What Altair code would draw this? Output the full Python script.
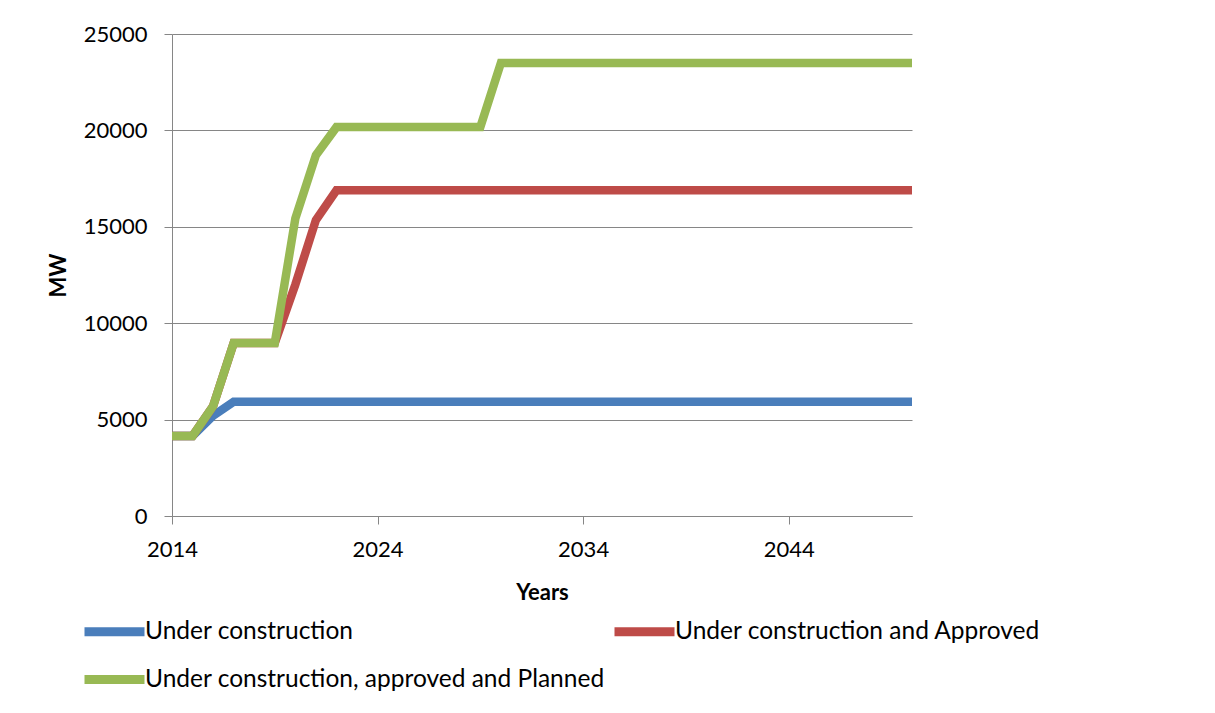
import altair as alt
import pandas as pd

# ---- data ----
years = [2014, 2015, 2016, 2017, 2019, 2020, 2021, 2022, 2029, 2030, 2050]
under_construction = [4150, 4150, 5200, 5930, 5930, 5930, 5930, 5930, 5930, 5930, 5930]
uc_and_approved = [4150, 4150, 5700, 8970, 8970, 12000, 15350, 16890, 16890, 16890, 16890]
uc_approved_planned = [4150, 4150, 5700, 8970, 8970, 15430, 18710, 20170, 20170, 23500, 23500]

series_names = [
    "Under construction",
    "Under construction and Approved",
    "Under construction, approved and Planned",
]
series_values = [under_construction, uc_and_approved, uc_approved_planned]
series_colors = ["#4A7EBB", "#BE4B48", "#98B954"]

# legend lays entries out column by column: blue, green (col 1), red (col 2)
legend_order = [0, 2, 1]

x_ticks = [2014, 2024, 2034, 2044]
y_ticks = [0, 5000, 10000, 15000, 20000, 25000]

rows = []
for name, vals in zip(series_names, series_values):
    for yr, v in zip(years, vals):
        rows.append({"year": yr, "MW": v, "series": name})
df = pd.DataFrame(rows)

FONT = "Lato"
GRID = "#868686"

color = alt.Color(
    "series:N",
    scale=alt.Scale(
        domain=[series_names[i] for i in legend_order],
        range=[series_colors[i] for i in legend_order],
    ),
    legend=alt.Legend(
        orient="none",
        legendX=-72,
        legendY=583,
        columns=2,
        columnPadding=-9,
        rowPadding=11,
        padding=0,
        symbolType="M-3,0H3",
        symbolSize=400,
        symbolStrokeWidth=9,
        labelFontSize=24.5,
        labelFont=FONT,
        labelColor="#000000",
        labelOffset=16,
        labelLimit=0,
        title=None,
    ),
)

x = alt.X(
    "year:Q",
    scale=alt.Scale(domain=[2014, 2050], nice=False, zero=False),
    axis=alt.Axis(
        values=x_ticks,
        format="d",
        title="Years",
        grid=False,
        tickSize=8,
        labelPadding=15,
        labelFlush=False,
        titlePadding=22,
    ),
)
y = alt.Y(
    "MW:Q",
    scale=alt.Scale(domain=[0, 25000], nice=False),
    axis=alt.Axis(
        values=y_ticks,
        format="d",
        title="MW",
        grid=True,
        tickSize=8,
        labelPadding=17,
        titlePadding=13,
    ),
)

layers = []
for name in series_names:
    layers.append(
        alt.Chart(df)
        .transform_filter(alt.datum.series == name)
        .mark_line(strokeWidth=8.5, strokeJoin="miter")
        .encode(x=x, y=y, color=color)
    )

chart = (
    alt.layer(*layers)
    .properties(
        width=740,
        height=482,
        background="white",
        autosize=alt.AutoSizeParams(type="none"),
        padding={"left": 164, "top": 26, "right": 287, "bottom": 180},
    )
    .configure_view(stroke=None)
    .configure_axis(
        labelFont=FONT,
        labelFontSize=22,
        labelColor="#000000",
        titleFont=FONT,
        titleFontSize=22,
        titleFontWeight="bold",
        titleColor="#000000",
        domainColor=GRID,
        domainWidth=1,
        tickColor=GRID,
        tickWidth=1,
        gridColor=GRID,
        gridWidth=1,
    )
)

chart.save("out.html", embed_options={"renderer": "svg", "actions": False})
